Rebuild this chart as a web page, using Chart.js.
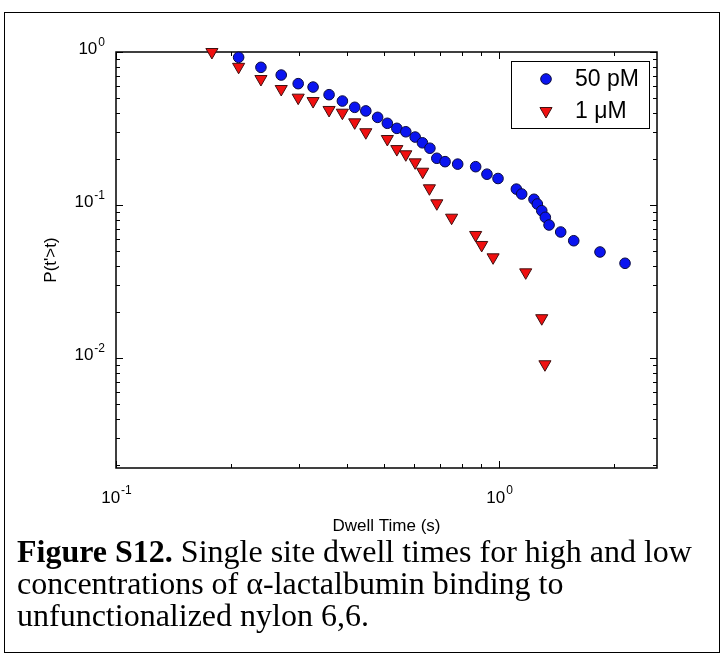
<!DOCTYPE html>
<html><head><meta charset="utf-8">
<script src="https://cdn.jsdelivr.net/npm/chart.js@4/dist/chart.umd.min.js"></script>
<style>
html,body{margin:0;padding:0;background:#fff;}
#wrap{position:relative;width:724px;height:661px;overflow:hidden;background:#fff;}
#frame{position:absolute;left:4px;top:12px;width:716px;height:641px;border:1.5px solid #000;box-sizing:border-box;}
#c{position:absolute;left:0;top:0;}
#cap{position:absolute;left:17px;top:535px;width:705px;font-family:"Liberation Serif","Times New Roman",serif;font-size:32px;line-height:32px;color:#000;white-space:nowrap;}
</style></head><body>
<div id="wrap"><div id="frame"></div><canvas id="c" width="724" height="661"></canvas>
<div id="cap"><b>Figure S12.</b> Single site dwell times for high and low<br>concentrations of α-lactalbumin binding to<br>unfunctionalized nylon 6,6.</div></div>
<script>
// ---- data ----
const seriesNames = ['50 pM', '1 \u03bcM'];
const time50pM = [0.209,0.239,0.270,0.299,0.327,0.360,0.390,0.420,0.449,0.482,0.511,0.541,0.571,0.604,0.631,0.660,0.688,0.723,0.780,0.869,0.930,0.994,1.110,1.146,1.234,1.259,1.293,1.321,1.351,1.449,1.567,1.835,2.133];
const p50pM    = [0.923,0.794,0.707,0.621,0.590,0.526,0.478,0.435,0.412,0.374,0.342,0.317,0.301,0.278,0.255,0.235,0.202,0.192,0.185,0.178,0.159,0.149,0.127,0.118,0.109,0.1015,0.0918,0.0831,0.074,0.0666,0.0584,0.0493,0.0416];
const time1uM  = [0.178,0.209,0.239,0.270,0.299,0.327,0.360,0.390,0.420,0.449,0.511,0.541,0.571,0.604,0.632,0.658,0.688,0.752,0.869,0.901,0.965,1.174,1.293,1.318];
const p1uM     = [1.0,0.80,0.666,0.573,0.503,0.478,0.418,0.401,0.347,0.299,0.270,0.232,0.2145,0.190,0.165,0.1286,0.1026,0.0826,0.0637,0.0548,0.0455,0.0363,0.0182,0.0091];
const xMajorTicks = [0.1, 1];
const xTickExponents = ['-1', '0'];
const yMajorTicks = [1, 0.1, 0.01];
const yTickExponents = ['0', '-1', '-2'];
const xTitle = 'Dwell Time (s)';
const yTitle = "P(t'>t)";
const xRange = [0.1, 2.585];
const yRange = [0.00191, 1];

function minorTicks(lo, hi){
  const out=[];
  for(let e=Math.floor(Math.log10(lo));e<=Math.ceil(Math.log10(hi));e++){
    for(let m=2;m<=9;m++){const v=m*Math.pow(10,e); if(v>lo*1.0001&&v<hi*0.9999) out.push(v);}
  }
  return out;
}

const FONT = '"Liberation Sans", Arial, Helvetica, sans-serif';

const decor = {
  id:'decor',
  beforeDatasetsDraw(chart){
    const {ctx, chartArea:a, scales:{x,y}} = chart;
    ctx.save();
    ctx.strokeStyle='#000'; ctx.lineWidth=1;
    ctx.beginPath();
    const tick=(x1,y1,x2,y2)=>{ctx.moveTo(x1,y1);ctx.lineTo(x2,y2);};
    minorTicks(xRange[0],xRange[1]).forEach(v=>{const px=Math.round(x.getPixelForValue(v))+0.5; tick(px,a.bottom,px,a.bottom-4); tick(px,a.top,px,a.top+4);});
    xMajorTicks.forEach(v=>{const px=Math.round(x.getPixelForValue(v))+0.5; tick(px,a.bottom,px,a.bottom-7); tick(px,a.top,px,a.top+7);});
    minorTicks(yRange[0],yRange[1]).forEach(v=>{const py=Math.round(y.getPixelForValue(v))+0.5; tick(a.left,py,a.left+4,py); tick(a.right,py,a.right-4,py);});
    yMajorTicks.forEach(v=>{const py=Math.round(y.getPixelForValue(v))+0.5; tick(a.left,py,a.left+7,py); tick(a.right,py,a.right-7,py);});
    ctx.stroke();
    ctx.lineWidth=1.5;
    ctx.strokeRect(a.left,a.top,a.right-a.left,a.bottom-a.top);
    ctx.restore();
  },
  afterDraw(chart){
    const {ctx, chartArea:a, scales:{x,y}} = chart;
    ctx.save();
    ctx.fillStyle='#000';
    // x tick labels
    xMajorTicks.forEach((v,i)=>{
      const px=x.getPixelForValue(v);
      ctx.font='17px '+FONT; const w1=ctx.measureText('10').width;
      ctx.font='12px '+FONT; const w2=ctx.measureText(xTickExponents[i]).width;
      const left=px-(w1+w2)/2;
      ctx.textAlign='left'; ctx.textBaseline='alphabetic';
      ctx.font='17px '+FONT; ctx.fillText('10',left,a.bottom+35);
      ctx.font='12px '+FONT; ctx.fillText(xTickExponents[i],left+w1+1,a.bottom+26);
    });
    // y tick labels
    yMajorTicks.forEach((v,i)=>{
      const py=y.getPixelForValue(v);
      ctx.font='12px '+FONT; const w2=ctx.measureText(yTickExponents[i]).width;
      const right=a.left-11;
      ctx.textAlign='left'; ctx.textBaseline='alphabetic';
      ctx.fillText(yTickExponents[i],right-w2,py-6);
      ctx.font='17px '+FONT; const w1=ctx.measureText('10').width;
      ctx.fillText('10',right-w2-1-w1,py+2);
    });
    // axis titles
    ctx.font='17px '+FONT; ctx.textAlign='center'; ctx.textBaseline='middle';
    ctx.fillText(xTitle,(a.left+a.right)/2,a.bottom+58);
    ctx.save(); ctx.translate(51,(a.top+a.bottom)/2); ctx.rotate(-Math.PI/2); ctx.fillText(yTitle,0,0); ctx.restore();
    // legend
    const lx=511, ly=61, lw=138, lh=67;
    ctx.fillStyle='#fff'; ctx.fillRect(lx,ly,lw,lh);
    ctx.strokeStyle='#000'; ctx.lineWidth=1; ctx.strokeRect(lx+0.5,ly+0.5,lw,lh);
    chart.data.datasets.forEach((ds,i)=>{
      const cy=ly+18+i*32;
      ctx.fillStyle=ds.backgroundColor; ctx.strokeStyle=ds.borderColor; ctx.lineWidth=ds.borderWidth;
      Chart.helpers.drawPoint(ctx,{pointStyle:ds.pointStyle,rotation:ds.rotation||0,radius:ds.pointRadius,borderWidth:ds.borderWidth},lx+35,cy);
      ctx.fillStyle='#000'; ctx.font='23px '+FONT; ctx.textAlign='left'; ctx.textBaseline='middle';
      ctx.fillText(ds.label,lx+64,cy+1);
    });
    ctx.restore();
  }
};

new Chart(document.getElementById('c'),{
  type:'scatter',
  data:{datasets:[
    {label:seriesNames[0],data:time50pM.map((t,i)=>({x:t,y:p50pM[i]})),pointStyle:'circle',pointRadius:5.3,
     backgroundColor:'#0a14f0',borderColor:'#0a0a40',borderWidth:1,clip:false,rotation:0},
    {label:seriesNames[1],data:time1uM.map((t,i)=>({x:t,y:p1uM[i]})),pointStyle:'triangle',pointRadius:7,rotation:180,pointRotation:180,
     backgroundColor:'#f01010',borderColor:'#401010',borderWidth:1,clip:false}
  ]},
  options:{
    responsive:false, animation:false, devicePixelRatio:1,
    layout:{padding:{left:116,top:52,right:67,bottom:193}},
    scales:{
      x:{type:'logarithmic',min:xRange[0],max:xRange[1],display:false},
      y:{type:'logarithmic',min:yRange[0],max:yRange[1],display:false}
    },
    plugins:{legend:{display:false},tooltip:{enabled:false}},
    events:[]
  },
  plugins:[decor]
});
</script></body></html>
